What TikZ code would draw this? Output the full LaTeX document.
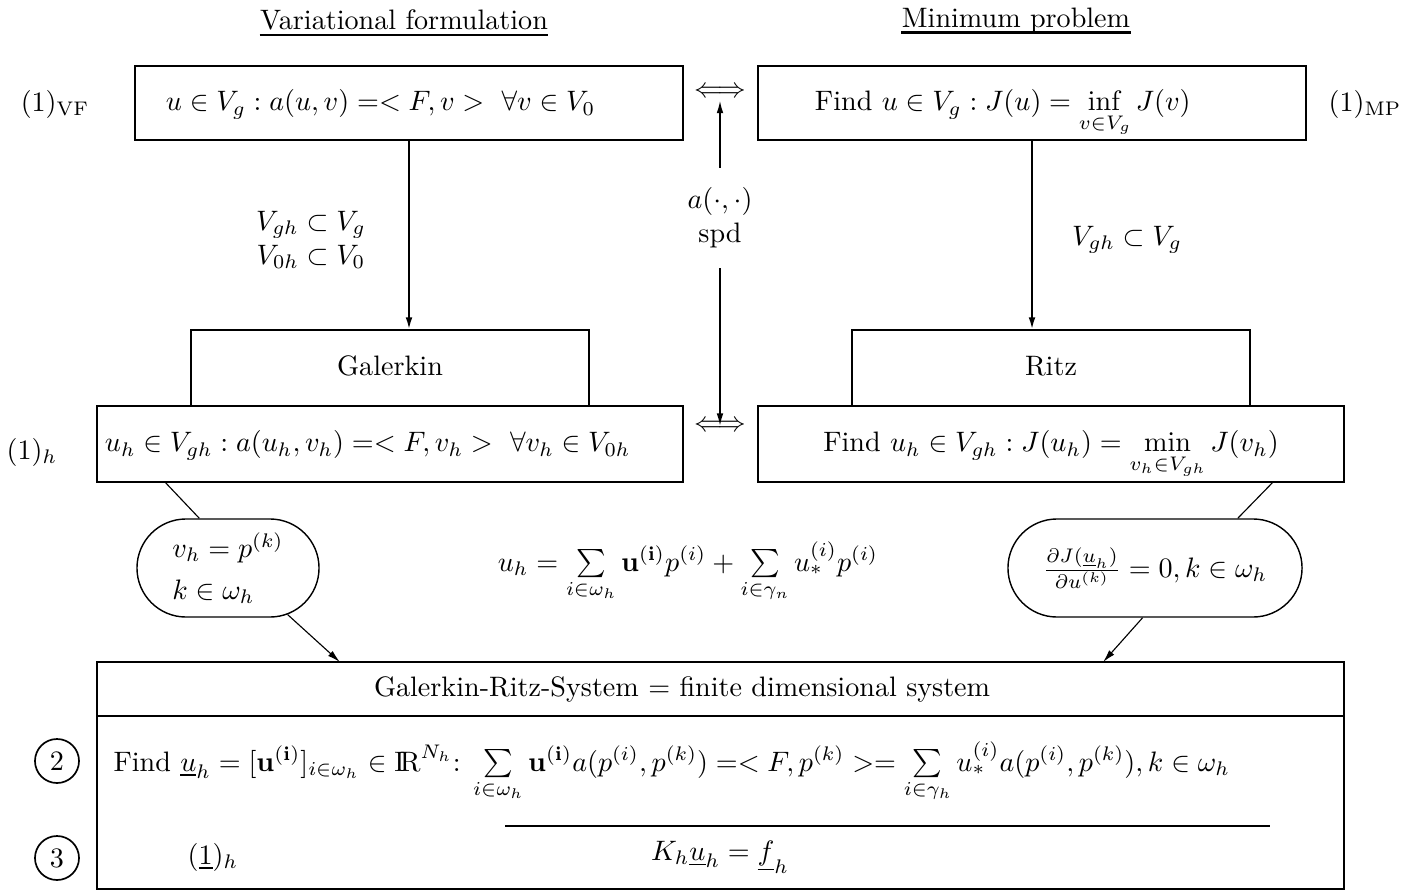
\documentclass[tikz,border=0pt]{standalone}
\usepackage{amsmath,amssymb}
\usetikzlibrary{arrows.meta,calc,positioning,shapes.misc}

\begin{document}
\begin{tikzpicture}[x=0.0125cm, y=-0.0125cm, >={Latex[length=4.5pt,width=2.4pt]},
  frm/.style={draw, line width=0.9pt, inner sep=0pt, outer sep=0pt, text height=6.6pt, text depth=1pt},
  pill/.style={draw, rounded rectangle, line width=0.5pt, minimum height=1.225cm, inner sep=0pt},
  num/.style={draw, circle, line width=0.6pt, minimum size=0.55cm, inner sep=0pt},
  link/.style={line width=0.4pt}]

\useasboundingbox (0,0) rectangle (1416,891);

% ---- headers ----
\node[inner xsep=0pt] (hvf) at (404,20) {Variational formulation};
\node[inner xsep=0pt] (hmp) at (1016,20) {Minimum problem};
\draw[line width=0.9pt] ([yshift=-2pt]hvf.base west) -- ([yshift=-2pt]hvf.base east);
\draw[line width=0.9pt] ([yshift=-2pt]hmp.base west) -- ([yshift=-2pt]hmp.base east);

% ---- continuous problems ----
\node[frm, minimum width=6.85cm, minimum height=0.925cm, text width=6.075cm, align=left] (vf) at (409,103)
  {$u\in V_g : a(u,v) =< F,v >\ \forall v\in V_0$};
\node[frm, minimum width=6.85cm, minimum height=0.925cm, text width=5.425cm, align=left] (mp) at (1032,103)
  {Find $u\in V_g : J(u) = \inf\limits_{v\in V_g} J(v)$};
\node (lvf) at (55,104) {$(1)_{\mathrm{VF}}$};
\node (lmp) at (1365,104) {$(1)_{\mathrm{MP}}$};

% equivalence, a(.,.) spd
\node[inner sep=1pt] (eqt) at (720,92) {$\Longleftrightarrow$};
\node[inner sep=1pt] (eqb) at (720,426) {$\Longleftrightarrow$};
\node[align=center, inner ysep=7pt] (spd) at (720,218) {$a(\cdot,\cdot)$\\spd};
\draw[->, line width=0.6pt] (spd) -- (eqt.south);
\draw[->, line width=0.6pt] (spd) -- (eqb.center);

% ---- discrete problems ----
\node[frm, minimum width=7.325cm, minimum height=0.95cm, text width=7.125cm, align=left] (vfh) at (390,444)
  {$u_h\in V_{gh} : a(u_h,v_h) =< F,v_h >\ \forall v_h\in V_{0h}$};
\node[frm, minimum width=7.325cm, minimum height=0.95cm] (mph) at (1051,444)
  {Find $u_h\in V_{gh} : J(u_h) = \min\limits_{v_h\in V_{gh}} J(v_h)$};
\node[frm, minimum width=4.97cm, minimum height=0.95cm, above=0pt of vfh] (gal) {Galerkin};
\node[frm, minimum width=4.97cm, minimum height=0.95cm, above=0pt of mph] (ritz) {Ritz};
\node (lh) at (32,452) {$(1)_h$};

\draw[->, line width=0.8pt] (vf.south) -- (vf.south |- gal.north);
\draw[->, line width=0.8pt] (mp.south) -- (mp.south |- ritz.north);
\node[align=center] (incl) at (311,240) {$V_{gh}\subset V_g$\\$V_{0h}\subset V_0$};
\node (incr) at (1127,240) {$V_{gh}\subset V_g$};

% ---- test functions / stationarity ----
\node[pill, minimum width=2.275cm, align=left] (lft) at (228,568) {$v_h = p^{(k)}$\\[3pt]$k\in\omega_h$};
\node[pill, minimum width=3.675cm] (rgt) at (1155,568)
  {$\frac{\partial J(\underline{u}_h)}{\partial u^{(k)}} = 0, k\in\omega_h$};
\node[anchor=base] (ueq) at (688,571)
  {$u_h = \sum\limits_{i\in\omega_h} \mathbf{u}^{\mathbf{(i)}} p^{(i)} + \sum\limits_{i\in\gamma_n} u_*^{(i)} p^{(i)}$};

% ---- Galerkin-Ritz system ----
\node[frm, minimum width=15.5875cm, minimum height=0.675cm, text width=8.66cm, align=left] (grshd) at (720.5,689)
  {Galerkin-Ritz-System $=$ finite dimensional system};
\node[frm, minimum width=15.5875cm, minimum height=2.1625cm, below=0pt of grshd] (grsbd) {};
\node[anchor=base west, inner sep=0pt] (row2) at (113,771)
  {Find $\underline{u}_h = [\mathbf{u}^{\mathbf{(i)}}]_{i\in\omega_h}\in \mathrm{I\!R}^{N_h}$: $\sum\limits_{i\in\omega_h}\mathbf{u}^{\mathbf{(i)}} a(p^{(i)},p^{(k)}) =< F,p^{(k)} >= \sum\limits_{i\in\gamma_h} u_*^{(i)} a(p^{(i)},p^{(k)}), k\in\omega_h$};
\node[num] (n2) at (57,761) {2};
\node[num] (n3) at (57,858) {3};
\node (uh1) at (213,857) {$(\underline{1})_h$};
\node (kuf) at (720,857) {$K_h\underline{u}_h = \underline{f}_h$};
\coordinate (rl) at (505,826);
\coordinate (rr) at (1270,826);
\draw[line width=1pt] (rl) -- (rr);

% connectors
\draw[link] ($(vfh.south west)+(68,0)$) -- (lft.120);
\draw[link, ->] (lft.-38) -- ($(grshd.north west)+(243,0)$);
\draw[link] ($(mph.south east)+(-71,0)$) -- (rgt.31);
\draw[link, ->] (rgt.-104) -- ($(grshd.north east)+(-241,0)$);

\end{tikzpicture}
\end{document}
